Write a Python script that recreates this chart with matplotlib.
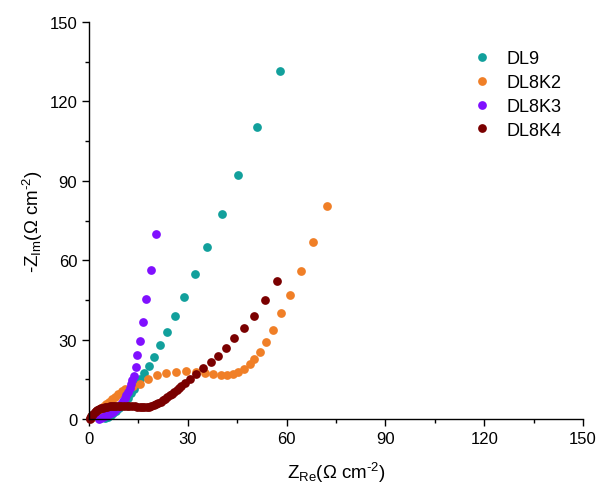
import matplotlib
matplotlib.use('Agg')
import matplotlib.pyplot as plt

plt.rcParams['font.family'] = ['Liberation Sans', 'DejaVu Sans']
plt.rcParams['mathtext.fontset'] = 'custom'
plt.rcParams['mathtext.rm'] = 'Liberation Sans'
plt.rcParams['mathtext.it'] = 'Liberation Sans:italic'

# Nyquist data
dl9_re = [4.7, 5.6, 6.5, 7.4, 8.3, 9.2, 10.1, 11.0, 11.9, 12.8, 13.7, 14.6, 15.6,
          16.7, 18.2, 19.7, 21.5, 23.6, 26.1, 28.8, 32.1, 35.8, 40.3, 45.2, 50.9, 57.9]
dl9_im = [0.3, 0.8, 1.4, 2.2, 3.1, 4.2, 5.4, 6.7, 8.1, 9.7, 11.4, 13.2, 15.2,
          17.4, 20.0, 23.4, 28.0, 32.9, 38.9, 46.1, 54.8, 65.0, 77.4, 92.2, 110.3, 131.5]

dl8k2_re = [0.6, 1.1, 1.7, 2.3, 3.0, 3.7, 4.4, 5.2, 6.0, 6.9, 7.9, 8.9, 9.9, 10.9,
            13.2, 15.5, 17.9, 20.6, 23.3, 26.4, 29.4, 32.4, 35.2, 37.6, 40.0, 41.8,
            43.6, 45.2, 47.0, 48.8, 50.0, 51.8, 53.6, 55.8, 58.2, 60.9, 64.2, 67.9, 72.1]
dl8k2_im = [0.3, 0.9, 1.6, 2.4, 3.2, 4.0, 4.8, 5.6, 6.5, 7.4, 8.5, 9.6, 10.5, 11.3,
            12.3, 13.4, 15.1, 16.5, 17.4, 17.8, 18.0, 17.8, 17.4, 17.0, 16.6, 16.6,
            17.0, 17.8, 18.9, 20.8, 22.7, 25.3, 29.1, 33.8, 40.0, 46.8, 56.0, 66.9, 80.5]

dl8k3_re = [3.0, 3.6, 4.2, 4.8, 5.4, 6.0, 6.6, 7.2, 7.8, 8.4, 9.0, 9.6, 10.2, 10.8,
            11.3, 11.8, 12.3, 12.7, 13.1, 13.6, 14.2, 14.6, 15.5, 16.4, 17.3, 18.8, 20.3]
dl8k3_im = [0.2, 0.4, 0.7, 1.0, 1.4, 1.8, 2.3, 2.8, 3.4, 4.1, 4.9, 5.8, 6.8, 7.9,
            9.1, 10.4, 11.8, 13.3, 14.9, 16.4, 19.6, 24.2, 29.5, 36.6, 45.3, 56.3, 69.9]

dl8k4_re = [0.2, 0.4, 0.7, 1.0, 1.3, 1.7, 2.1, 2.5, 3.0, 3.6, 4.2, 4.8, 5.5, 6.2,
            6.9, 7.6, 8.3, 9.0, 9.8, 10.6, 11.4, 12.2, 13.0, 13.8, 14.6, 15.4,
            16.1, 16.8, 17.5, 18.2, 18.9, 19.6, 20.3, 21.0, 21.7, 22.4, 23.1, 23.8,
            24.5, 25.2, 25.9, 26.6, 27.3, 28.0, 29.0, 30.6, 32.4, 34.5, 37.0, 39.1,
            41.5, 44.1, 47.0, 50.0, 53.3, 57.0]
dl8k4_im = [0.1, 0.5, 1.0, 1.5, 2.0, 2.5, 2.9, 3.3, 3.7, 4.0, 4.3, 4.5, 4.7, 4.8,
            4.9, 5.0, 5.0, 5.1, 5.1, 5.0, 5.0, 4.9, 4.8, 4.8, 4.7, 4.6,
            4.6, 4.6, 4.7, 4.7, 4.9, 5.2, 5.6, 6.0, 6.5, 7.1, 7.7, 8.3,
            8.9, 9.6, 10.3, 11.0, 11.7, 12.5, 13.6, 15.1, 17.0, 19.3, 21.5, 23.8,
            26.8, 30.5, 34.4, 38.9, 45.0, 52.1]

series = [
    ('DL9', dl9_re, dl9_im, '#12a09c'),
    ('DL8K2', dl8k2_re, dl8k2_im, '#f07f27'),
    ('DL8K3', dl8k3_re, dl8k3_im, '#8010ff'),
    ('DL8K4', dl8k4_re, dl8k4_im, '#7a0000'),
]

fig = plt.figure(figsize=(5.98, 4.89), dpi=100)
ax = fig.add_axes([0.149, 0.141, 0.826, 0.812])

for name, xs, ys, col in series:
    ax.plot(xs, ys, 'o', color=col, markersize=6.3, markeredgewidth=0, label=name,
            clip_on=False)

ax.set_xlim(0, 150)
ax.set_ylim(0, 150)
ax.set_xticks(range(0, 151, 30))
ax.set_yticks(range(0, 151, 30))
ax.set_xticks(range(15, 151, 30), minor=True)
ax.set_yticks(range(15, 151, 30), minor=True)
ax.tick_params(which='major', direction='out', length=5, width=1, labelsize=12)
ax.tick_params(which='minor', direction='out', length=3, width=1)
ax.spines['top'].set_visible(False)
ax.spines['right'].set_visible(False)
for s in ('left', 'bottom'):
    ax.spines[s].set_linewidth(1)

ax.set_xlabel(r'Z$_{\mathrm{Re}}$($\Omega$ cm$^{\text{-2}}$)', fontsize=13.5, labelpad=10)
ax.set_ylabel(r'-Z$_{\mathrm{Im}}$($\Omega$ cm$^{\text{-2}}$)', fontsize=13.5, labelpad=3)

ax.legend(loc='upper right', bbox_to_anchor=(0.99, 0.97), frameon=False,
          fontsize=13, handletextpad=0.4, labelspacing=0.38, markerscale=1.0)

fig.savefig('out.png', dpi=100)
